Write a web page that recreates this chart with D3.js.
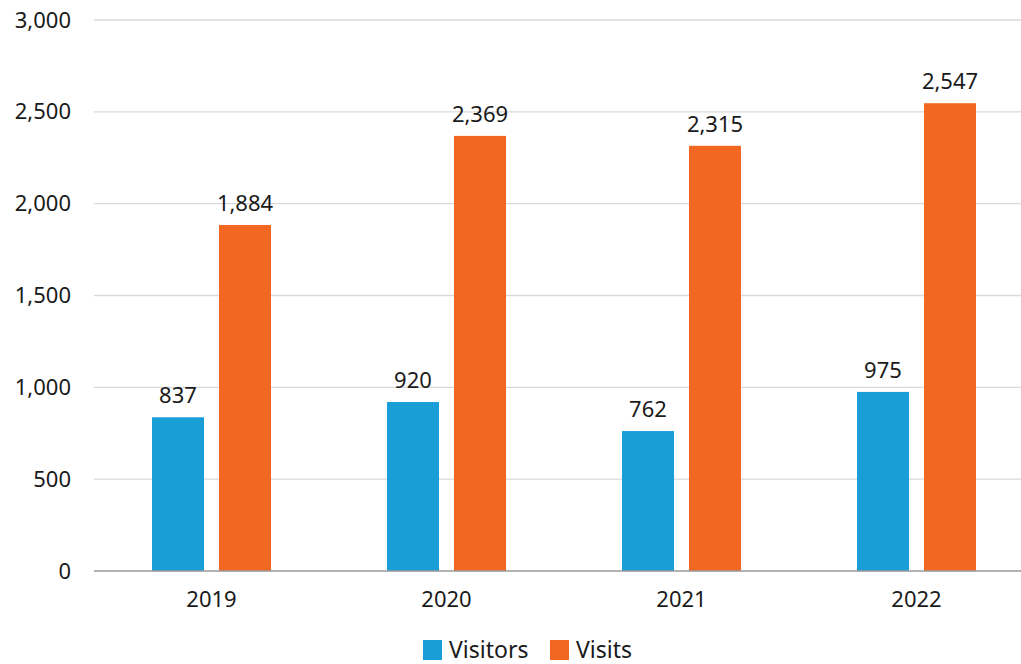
<!DOCTYPE html>
<html>
<head>
<meta charset="utf-8">
<script src="https://cdn.jsdelivr.net/npm/d3@7"></script>
<style>
  body { margin: 0; background: #fff; }
  svg { display: block; font-family: "Noto Sans", sans-serif; }
</style>
</head>
<body>
<div id="chart"></div>
<script>
const years = ["2019", "2020", "2021", "2022"];
const seriesNames = ["Visitors", "Visits"];
const visitors = [837, 920, 762, 975];
const visits = [1884, 2369, 2315, 2547];
const yTicks = [0, 500, 1000, 1500, 2000, 2500, 3000];

const width = 1021, height = 664;
const plotLeft = 94, plotRight = 1034, plotTop = 20, plotBottom = 571;
const colors = ["#1a9ed8", "#f26722"];

const svg = d3.select("#chart").append("svg")
  .attr("width", width)
  .attr("height", height);

const x = d3.scaleBand().domain(years).range([plotLeft, plotRight]).paddingInner(0).paddingOuter(0);
const xInner = d3.scaleBand().domain(seriesNames).range([0, 119]).paddingInner(0.224);
const y = d3.scaleLinear().domain([0, 3000]).range([plotBottom, plotTop]);

// gridlines
svg.append("g")
  .selectAll("line")
  .data(yTicks.filter(d => d > 0))
  .enter().append("line")
  .attr("x1", plotLeft).attr("x2", plotRight)
  .attr("y1", d => y(d)).attr("y2", d => y(d))
  .attr("stroke", "#d9d9d9").attr("stroke-width", 1.3);

// y axis labels
const yAxis = d3.axisLeft(y).tickValues(yTicks).tickFormat(d3.format(",")).tickSize(0).tickPadding(23);
svg.append("g")
  .attr("transform", `translate(${plotLeft},0)`)
  .call(yAxis)
  .call(g => g.select(".domain").remove())
  .selectAll("text")
  .style("font-family", "'Noto Sans', sans-serif")
  .style("font-size", "22px")
  .attr("fill", "#1a1a1a");

const rows = years.map((yr, i) => ({ year: yr, values: [visitors[i], visits[i]] }));
const bandOffset = (x.bandwidth() - 119) / 2;

const groups = svg.append("g").selectAll("g")
  .data(rows)
  .enter().append("g")
  .attr("transform", d => `translate(${x(d.year) + bandOffset},0)`);

groups.selectAll("rect")
  .data(d => d.values.map((v, j) => ({ name: seriesNames[j], value: v, idx: j })))
  .enter().append("rect")
  .attr("x", d => xInner(d.name))
  .attr("width", xInner.bandwidth())
  .attr("y", d => y(d.value))
  .attr("height", d => plotBottom - y(d.value))
  .attr("fill", d => colors[d.idx]);

groups.selectAll("text")
  .data(d => d.values.map((v, j) => ({ name: seriesNames[j], value: v })))
  .enter().append("text")
  .attr("x", d => xInner(d.name) + xInner.bandwidth() / 2)
  .attr("y", d => y(d.value) - 14)
  .attr("text-anchor", "middle")
  .style("font-size", "22px")
  .attr("fill", "#1a1a1a")
  .text(d => d3.format(",")(d.value));

// baseline
svg.append("line")
  .attr("x1", plotLeft).attr("x2", plotRight)
  .attr("y1", plotBottom).attr("y2", plotBottom)
  .attr("stroke", "#999").attr("stroke-width", 1.5);

// x axis
const xAxis = d3.axisBottom(x).tickSize(0).tickPadding(20);
svg.append("g")
  .attr("transform", `translate(0,${plotBottom})`)
  .call(xAxis)
  .call(g => g.select(".domain").remove())
  .selectAll("text")
  .style("font-family", "'Noto Sans', sans-serif")
  .style("font-size", "22px")
  .attr("fill", "#1a1a1a");

// legend
const legend = svg.append("g").attr("transform", "translate(423,640)");
const legendX = [0, 127];
seriesNames.forEach((name, i) => {
  const g = legend.append("g").attr("transform", `translate(${legendX[i]},0)`);
  g.append("rect").attr("width", 19).attr("height", 20).attr("fill", colors[i]);
  g.append("text")
    .attr("x", 26).attr("y", 18)
    .style("font-size", "23px")
    .attr("fill", "#1a1a1a")
    .text(name);
});
</script>
</body>
</html>
